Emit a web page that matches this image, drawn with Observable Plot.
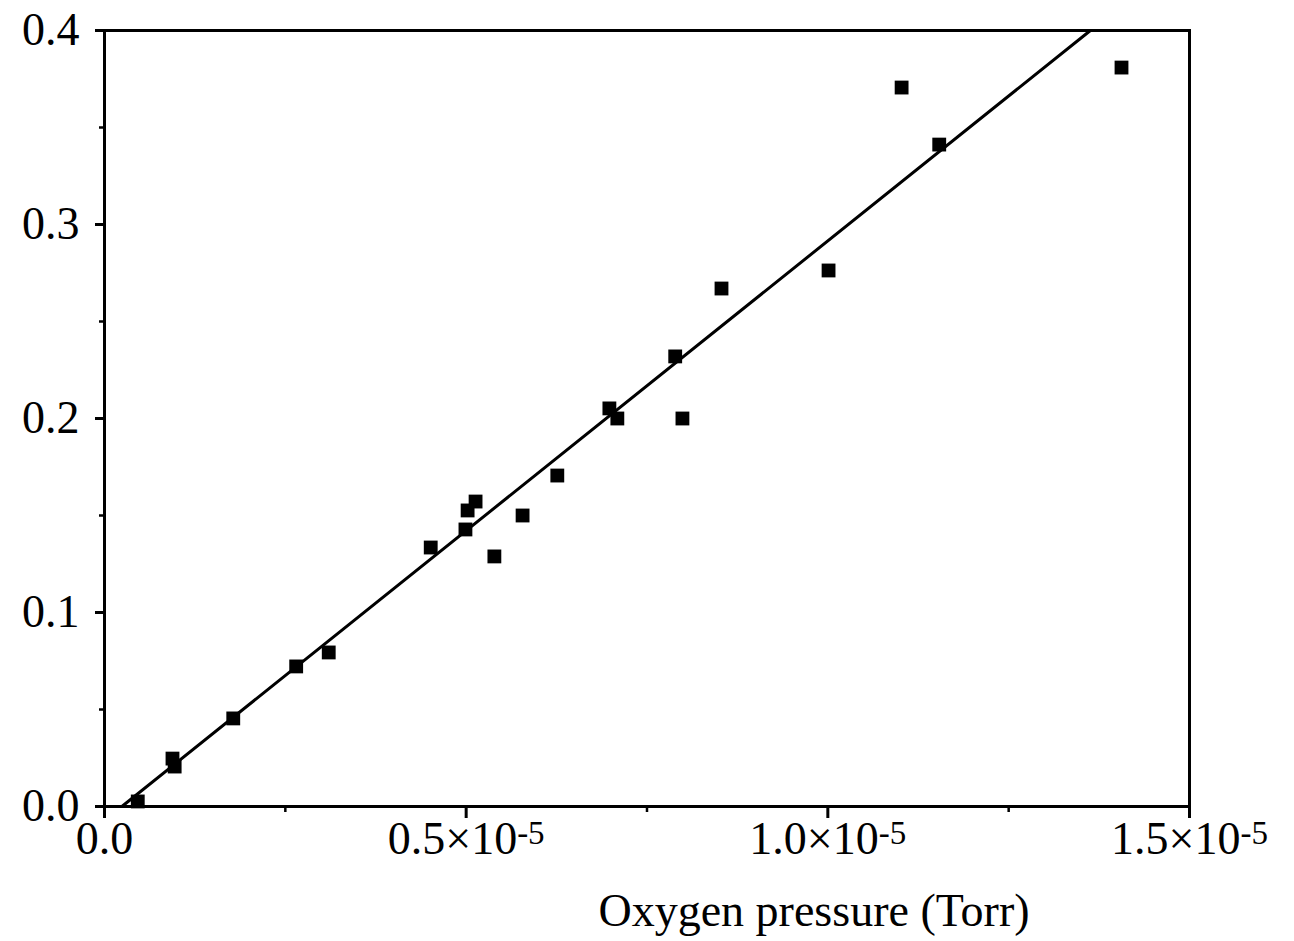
<!DOCTYPE html>
<html><head><meta charset="utf-8">
<script src="https://cdn.jsdelivr.net/npm/d3@7"></script>
<script src="https://cdn.jsdelivr.net/npm/@observablehq/plot@0.6"></script>
<style>body{margin:0;background:#fff}</style>
</head><body><div id="chart"></div>
<script>
// Measured points
const pressure = [0.046e-5, 0.094e-5, 0.097e-5, 0.178e-5, 0.265e-5, 0.310e-5, 0.451e-5, 0.499e-5, 0.502e-5, 0.513e-5, 0.539e-5, 0.578e-5, 0.626e-5, 0.698e-5, 0.709e-5, 0.789e-5, 0.799e-5, 0.853e-5, 1.001e-5, 1.102e-5, 1.154e-5, 1.406e-5];
const signal   = [0.0026, 0.0247, 0.0206, 0.0454, 0.0722, 0.0794, 0.1335, 0.1428, 0.1526, 0.1572, 0.1289, 0.1500, 0.1706, 0.2052, 0.2000, 0.2320, 0.2000, 0.2670, 0.2763, 0.3706, 0.3412, 0.3809];
// Linear fit endpoints
const fitX = [0.024e-5, 1.363e-5];
const fitY = [0, 0.4];
// Ticks
const xTicks = [0, 0.5e-5, 1.0e-5, 1.5e-5];
const xTickLabels = ["0.0", "0.5×10-5", "1.0×10-5", "1.5×10-5"];
const xMinorTicks = [0.25e-5, 0.75e-5, 1.25e-5];
const yTicks = [0, 0.1, 0.2, 0.3, 0.4];
const yTickLabels = ["0.0", "0.1", "0.2", "0.3", "0.4"];
const yMinorTicks = [0.05, 0.15, 0.25, 0.35];
const xLabel = ["Oxygen pressure (Torr)"];

const points = pressure.map((p, i) => ({p, s: signal[i]}));
const fit = fitX.map((x, i) => ({x, y: fitY[i]}));

const svg = Plot.plot({
  width: 1294,
  height: 941,
  marginLeft: 104,
  marginRight: 105,
  marginTop: 30,
  marginBottom: 135,
  style: {fontFamily: "'Liberation Serif', 'Times New Roman', serif", background: "#fff", color: "#000"},
  x: {domain: [0, 1.5e-5]},
  y: {domain: [0, 0.4]},
  marks: [
    Plot.axisX(xMinorTicks, {tickSize: 6, strokeWidth: 2.5, tickFormat: () => "", label: null}),
    Plot.axisX(xTicks, {tickSize: 12, strokeWidth: 3, tickPadding: 3, fontSize: 46,
      tickFormat: d => xTickLabels[xTicks.indexOf(d)], label: null}),
    Plot.axisY(yMinorTicks, {tickSize: 5, strokeWidth: 2.5, tickFormat: () => "", label: null}),
    Plot.axisY(yTicks, {tickSize: 9, strokeWidth: 3, tickPadding: 16, fontSize: 46,
      tickFormat: d => yTickLabels[yTicks.indexOf(d)], label: null}),
    Plot.frame({stroke: "#000", strokeWidth: 3}),
    Plot.line(fit, {x: "x", y: "y", stroke: "#000", strokeWidth: 3}),
    Plot.dot(points, {x: "p", y: "s", symbol: "square", r: 7.8, fill: "#000", stroke: "none"}),
    Plot.text(xLabel, {text: d => d, frameAnchor: "bottom", dx: 167, dy: 119, lineAnchor: "bottom", fontSize: 46, fill: "#000"})
  ]
});

d3.select(svg).selectAll('g[aria-label="x-axis tick label"] text').each(function() {
  const t = this.textContent;
  const i = t.indexOf("×10");
  if (i < 0) return;
  const base = t.slice(0, i + 3), sup = t.slice(i + 3);
  const sel = d3.select(this);
  sel.text(null);
  sel.append("tspan").text(base);
  sel.append("tspan").attr("font-size", 33).attr("dy", "-0.3em").text(sup);
});

document.getElementById("chart").appendChild(svg);
</script>
</body></html>
